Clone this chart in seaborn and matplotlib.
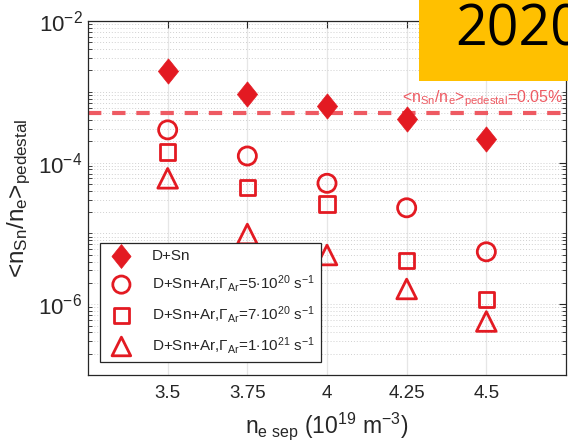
import numpy as np
import pandas as pd
import matplotlib
matplotlib.use("Agg")
import matplotlib.pyplot as plt
import matplotlib.ticker as mticker
from matplotlib.path import Path
import seaborn as sns

# Separatrix electron density (1e19 m^-3)
n_sep = [3.5, 3.75, 4.0, 4.25, 4.5]
tick_labels = ["3.5", "3.75", "4", "4.25", "4.5"]

# Pedestal-averaged Sn concentration for each scenario
d_sn = [1.99e-3, 9.3e-4, 6.2e-4, 4.13e-4, 2.15e-4]
ar_5e20 = [2.9e-4, 1.24e-4, 5.1e-5, 2.3e-5, 5.5e-6]
ar_7e20 = [1.41e-4, 4.5e-5, 2.6e-5, 4.1e-6, 1.17e-6]
ar_1e21 = [6.0e-5, 9.8e-6, 4.95e-6, 1.64e-6, 5.7e-7]

limit = 5e-4  # 0.05 %

series_labels = [
    "D+Sn",
    r"D+Sn+Ar,$\Gamma_{\rm Ar}$=5$\cdot$10$^{20}$ s$^{-1}$",
    r"D+Sn+Ar,$\Gamma_{\rm Ar}$=7$\cdot$10$^{20}$ s$^{-1}$",
    r"D+Sn+Ar,$\Gamma_{\rm Ar}$=1$\cdot$10$^{21}$ s$^{-1}$",
]

sns.set_theme(style="white")
plt.rcParams["font.family"] = ["Liberation Sans", "DejaVu Sans"]
plt.rcParams["mathtext.fontset"] = "custom"
plt.rcParams["mathtext.rm"] = "Liberation Sans"
plt.rcParams["mathtext.it"] = "Liberation Sans"

red = "#E31A22"
line_red = "#EE5A62"

fig = plt.figure(figsize=(5.68, 4.44), dpi=100)
ax = fig.add_axes([88 / 568, 1 - 375 / 444, (566 - 88) / 568, (375 - 21) / 444])

diamond = Path([(0, 1), (0.8, 0), (0, -1), (-0.8, 0), (0, 1)],
               [Path.MOVETO, Path.LINETO, Path.LINETO, Path.LINETO, Path.CLOSEPOLY])

df = pd.DataFrame({"n": n_sep * 4,
                   "c": d_sn + ar_5e20 + ar_7e20 + ar_1e21,
                   "case": sum([[lab] * len(n_sep) for lab in series_labels], [])})

styles = [
    dict(marker=diamond, s=330, facecolor=red, edgecolor=red, linewidth=0.5),
    dict(marker="o", s=170, facecolor="none", edgecolor=red, linewidth=2.0),
    dict(marker="s", s=120, facecolor="none", edgecolor=red, linewidth=2.0),
    dict(marker="^", s=200, facecolor="none", edgecolor=red, linewidth=2.0),
]

for lab, st in zip(series_labels, styles):
    sub = df[df["case"] == lab]
    sns.scatterplot(data=sub, x="n", y="c", ax=ax, label=lab, zorder=3, **st)

ax.axhline(limit, color=line_red, lw=3, ls=(0, (3.2, 2.6)), zorder=2)
ax.text(4.235, limit * 1.13,
        r"<n$_{\rm Sn}$/n$_{\rm e}$>$_{\rm pedestal}$=0.05%",
        color=line_red, fontsize=11.5, ha="left", va="bottom", zorder=4)

ax.set_yscale("log")
ax.set_xlim(3.25, 4.75)
ax.set_ylim(1e-7, 1e-2)
ax.set_xticks(n_sep)
ax.set_xticklabels(tick_labels)
ax.yaxis.set_major_locator(mticker.FixedLocator([1e-6, 1e-4, 1e-2]))
ax.yaxis.set_major_formatter(mticker.LogFormatterMathtext())
ax.yaxis.set_minor_locator(mticker.LogLocator(base=10, subs=np.arange(1, 10), numticks=20))
ax.yaxis.set_minor_formatter(mticker.NullFormatter())

ax.grid(True, axis="x", which="major", color="#e6e6e6", lw=0.9)
ax.grid(True, axis="y", which="minor", color="#d0d0d0", lw=0.7, ls=(0, (1, 2)))
ax.grid(True, axis="y", which="major", color="#d0d0d0", lw=0.7, ls=(0, (1, 2)))
ax.tick_params(axis="both", which="major", direction="in", length=5, width=0.8,
               labelsize=13.5, colors="#262626", labelcolor="#262626",
               top=True, right=True, pad=7)
ax.tick_params(axis="y", which="minor", direction="in", length=3, width=0.6,
               left=True, right=True, colors="#262626")
ax.tick_params(axis="y", which="major", labelsize=16, pad=4)
for sp in ax.spines.values():
    sp.set_color("#262626")
    sp.set_linewidth(0.9)

ax.set_xlabel(r"n$_{\rm e\ sep}$ (10$^{19}$ m$^{-3}$)", fontsize=16.5, color="#262626", labelpad=6)
ax.set_ylabel(r"<n$_{\rm Sn}$/n$_{\rm e}$>$_{\rm pedestal}$", fontsize=17.5, color="#262626", labelpad=4)

leg = ax.legend(loc="lower left", bbox_to_anchor=(12 / 478, 13 / 354), fontsize=11,
                frameon=True, fancybox=False, edgecolor="#262626", framealpha=1,
                borderpad=0.4, labelspacing=0.65, handletextpad=1.0, borderaxespad=0)
leg.get_frame().set_linewidth(0.9)
for h in leg.legend_handles:
    h.set_sizes([h.get_sizes()[0] * 0.9])

# Year badge
fig.patches.append(plt.Rectangle((419 / 568, 1 - 81 / 444), 149 / 568, 81 / 444,
                                 transform=fig.transFigure, facecolor="#FFC000",
                                 edgecolor="none", zorder=10))
fig.text(455 / 568, 1 - 31 / 444, "2020", fontsize=40, family="Open Sans",
         color="black", ha="left", va="center", zorder=11)

fig.savefig("out.png", dpi=100)
